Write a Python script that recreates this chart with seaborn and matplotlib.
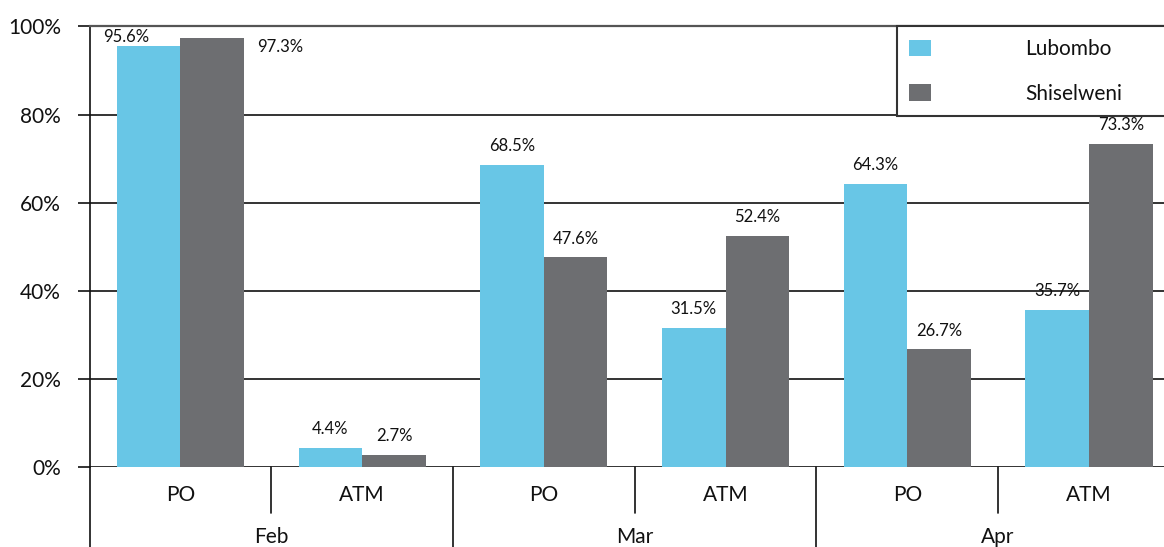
import matplotlib
matplotlib.use("Agg")
import matplotlib.pyplot as plt
import seaborn as sns
import pandas as pd

months = ["Feb", "Mar", "Apr"]
types = ["PO", "ATM"]
sites = ["Lubombo", "Shiselweni"]
lubombo = [95.6, 4.4, 68.5, 31.5, 64.3, 35.7]
shiselweni = [97.3, 2.7, 47.6, 52.4, 26.7, 73.3]
yticks = [0, 20, 40, 60, 80, 100]
colors = ["#68C6E6", "#6D6E71"]

cats = [f"{m} {t}" for m in months for t in types]
df = pd.DataFrame({
    "cat": cats * 2,
    "site": [sites[0]] * len(cats) + [sites[1]] * len(cats),
    "value": lubombo + shiselweni,
})

sns.set_theme(style="white")
plt.rcParams["font.family"] = ["Lato", "DejaVu Sans"]

fig = plt.figure(figsize=(11.64, 5.47), dpi=100)
ax = fig.add_axes([89.6 / 1164, 80 / 547, (1164 - 89.6) / 1164, 440.6 / 547])

sns.barplot(data=df, x="cat", y="value", hue="site", order=cats, hue_order=sites,
            palette=colors, width=0.7, gap=0, linewidth=0, saturation=1, ax=ax)

ax.set_xlim(-0.5, 5.413)
ax.set_ylim(0, 100)
ax.set_yticks(yticks)
ax.set_yticklabels([f"{v}%" for v in yticks], fontsize=15, color="#111111")
ax.tick_params(axis="y", length=8.6, width=1.2, color="#111111", pad=12, direction="out", left=True)
ax.set_xticks(range(len(cats)))
ax.set_xticklabels([t for m in months for t in types], fontsize=15, color="#111111")
ax.tick_params(axis="x", length=0, pad=13)
ax.set_xlabel("")
ax.set_ylabel("")

for s in ["right", "bottom"]:
    ax.spines[s].set_visible(False)
ax.spines["top"].set_visible(True)
ax.spines["top"].set_color("#555555")
ax.spines["top"].set_linewidth(1.6)
ax.spines["left"].set_color("#111111")
ax.spines["left"].set_linewidth(1.2)
ax.yaxis.grid(True, color="#111111", linewidth=1.2)
ax.xaxis.grid(False)
ax.set_axisbelow(True)

# value labels
special = {(0, 0): (-16, 6.5), (0, 1): (49, -6)}
for hi, cont in enumerate(ax.containers):
    for ci, bar in enumerate(cont):
        v = bar.get_height()
        dx, dy = special.get((ci, hi), (0, 13.5))
        ax.annotate(f"{v}%", (bar.get_x() + bar.get_width() / 2, v),
                    xytext=(dx, dy), textcoords="offset points",
                    ha="center", va="center", fontsize=12, color="#111111")

# multi-level separators and month labels
tr = ax.get_xaxis_transform()
for i, m in enumerate(months):
    left = 2 * i - 0.5
    ax.plot([left, left], [0, -0.2], transform=tr, color="#111111", lw=1.2, clip_on=False)
    ax.plot([left + 1, left + 1], [0, -0.104], transform=tr, color="#111111", lw=1.2, clip_on=False)
    ax.text(2 * i + 0.5, -0.1718, m, transform=tr, ha="center", va="baseline",
            fontsize=15, color="#111111")

# legend
handles, labels = ax.get_legend_handles_labels()
if ax.get_legend() is not None:
    ax.get_legend().remove()
leg = ax.legend(handles, labels, loc="upper left", bbox_to_anchor=(0.7514, 0.0, 0.3, 1.0),
                mode="expand", fontsize=15, frameon=True, fancybox=False, framealpha=1,
                edgecolor="#333333", borderpad=0.6, labelspacing=1.19, handlelength=1.06,
                handleheight=0.82, handletextpad=4.5, borderaxespad=0)
leg.get_frame().set_linewidth(1.5)
for t in leg.get_texts():
    t.set_color("#111111")

fig.savefig("out.png", dpi=100)
